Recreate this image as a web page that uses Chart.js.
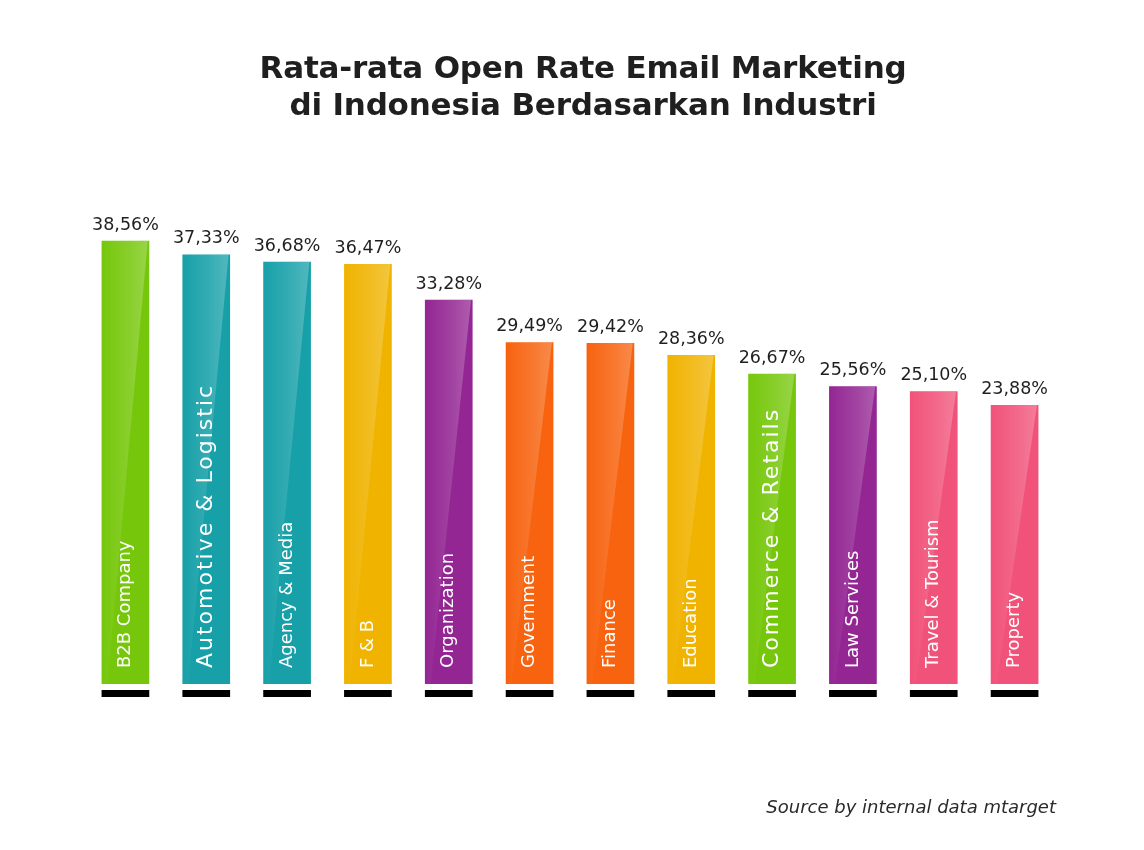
<!DOCTYPE html>
<html>
<head>
<meta charset="utf-8">
<script src="https://cdn.jsdelivr.net/npm/chart.js@4.4.1/dist/chart.umd.min.js"></script>
<style>
  html, body { margin: 0; padding: 0; background: #ffffff; }
  #wrap { position: relative; width: 1144px; height: 850px; background: #fff; }
  #chart { position: absolute; left: 0; top: 0; }
  #title {
    position: absolute; left: 22px; width: 1122px; top: 49px;
    text-align: center; font-family: "DejaVu Sans", sans-serif; font-weight: bold;
    font-size: 31px; line-height: 37px; color: #1f1f1f; letter-spacing: -0.2px;
  }
  #source {
    position: absolute; right: 88px; top: 796px;
    font-family: "DejaVu Sans", sans-serif; font-style: italic; font-size: 18px; color: #2a2a2a;
  }
</style>
</head>
<body>
<div id="wrap">
  <canvas id="chart" width="1144" height="850"></canvas>
  <div id="title">Rata-rata Open Rate Email Marketing<br>di Indonesia Berdasarkan Industri</div>
  <div id="source">Source by internal data mtarget</div>
</div>
<script>
const categories = ["B2B Company", "Automotive & Logistic", "Agency & Media", "F & B", "Organization",
  "Government", "Finance", "Education", "Commerce & Retails", "Law Services", "Travel & Tourism", "Property"];
const openRates = [38.56, 37.33, 36.68, 36.47, 33.28, 29.49, 29.42, 28.36, 26.67, 25.56, 25.10, 23.88];
const barColors = ["#76c70b", "#17a0a8", "#17a0a8", "#f0b300", "#932693", "#f7630f",
  "#f7630f", "#f0b300", "#76c70b", "#932693", "#f15279", "#f15279"];
const bigLabel = [false, true, false, false, false, false, false, false, true, false, false, false];

const FONT = '"DejaVu Sans", sans-serif';

const decorPlugin = {
  id: 'decor',
  afterDatasetsDraw(chart) {
    const ctx = chart.ctx;
    const meta = chart.getDatasetMeta(0);
    meta.data.forEach((bar, i) => {
      const p = bar.getProps(['x', 'y', 'base', 'width'], true);
      const left = p.x - p.width / 2, right = p.x + p.width / 2;
      const top = p.y, bottom = p.base, h = bottom - top;
      // gloss overlay
      ctx.save();
      ctx.beginPath();
      ctx.moveTo(left, top);
      ctx.lineTo(right - 1.5, top);
      ctx.lineTo(left + p.width * 0.12, bottom);
      ctx.lineTo(left, bottom);
      ctx.closePath();
      ctx.clip();
      const g = ctx.createLinearGradient(left, top, right, top);
      g.addColorStop(0, 'rgba(255,255,255,0.0)');
      g.addColorStop(0.6, 'rgba(255,255,255,0.14)');
      g.addColorStop(1, 'rgba(255,255,255,0.26)');
      ctx.fillStyle = g;
      ctx.fillRect(left, top, p.width, h);
      ctx.restore();
      // black underline
      ctx.save();
      ctx.fillStyle = '#000';
      ctx.fillRect(left, bottom + 6, p.width, 7);
      ctx.restore();
      // value label
      ctx.save();
      ctx.fillStyle = '#1f1f1f';
      ctx.font = '17.5px ' + FONT;
      ctx.textAlign = 'center';
      ctx.textBaseline = 'alphabetic';
      ctx.fillText(openRates[i].toFixed(2).replace('.', ',') + '%', p.x, top - 11);
      ctx.restore();
      // category label inside bar
      ctx.save();
      ctx.translate(p.x, bottom - 16);
      ctx.rotate(-Math.PI / 2);
      ctx.fillStyle = '#ffffff';
      if (bigLabel[i]) {
        ctx.font = '22px ' + FONT;
        ctx.letterSpacing = '2px';
      } else {
        ctx.font = '18px ' + FONT;
        ctx.letterSpacing = '0px';
      }
      ctx.textAlign = 'left';
      ctx.textBaseline = 'middle';
      ctx.fillText(categories[i], 0, 0);
      ctx.restore();
    });
  }
};

new Chart(document.getElementById('chart'), {
  type: 'bar',
  data: {
    labels: categories,
    datasets: [{
      data: openRates,
      backgroundColor: barColors,
      borderWidth: 0,
      base: -1.05,
      barPercentage: 0.59,
      categoryPercentage: 1.0
    }]
  },
  options: {
    responsive: false,
    animation: false,
    layout: { padding: { left: 85, right: 89, top: 200, bottom: 166 } },
    plugins: { legend: { display: false }, tooltip: { enabled: false }, title: { display: false } },
    scales: {
      x: { display: false },
      y: { display: false, min: -1.05, max: 42.2 }
    }
  },
  plugins: [decorPlugin]
});
</script>
</body>
</html>
